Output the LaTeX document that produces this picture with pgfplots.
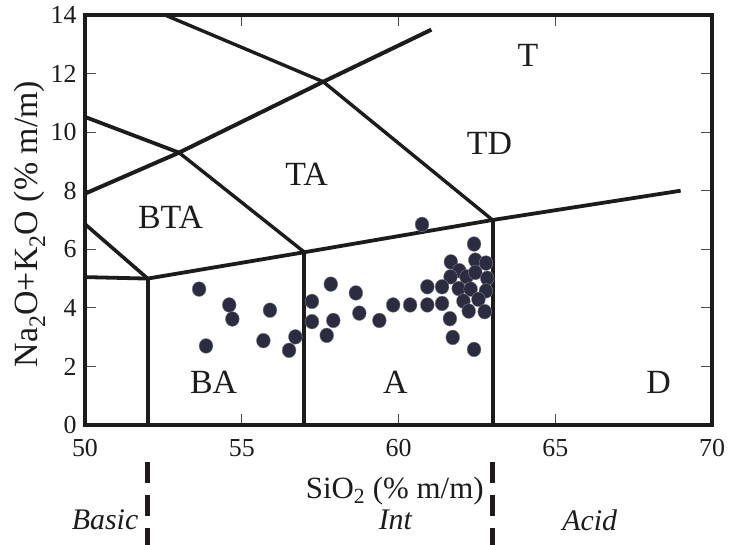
\documentclass[border=0pt]{standalone}
\usepackage{fontspec}
\setmainfont{Liberation Serif}
\usepackage{pgfplots}
\pgfplotsset{compat=1.18}
\definecolor{ln}{RGB}{30,27,28}
\definecolor{dot}{RGB}{44,44,64}
\begin{document}
\begin{tikzpicture}
\path[use as bounding box] (-85bp,-120bp) rectangle (644bp,425bp);
\begin{axis}[
  at={(0,0)}, anchor=south west,
  scale only axis, width=627bp, height=410bp,
  xmin=50, xmax=70, ymin=0, ymax=14,
  xtick={50,55,60,65,70}, ytick={0,2,4,6,8,10,12,14},
  tick align=inside, major tick length=11bp,
  tick style={line width=1.1bp, color=ln!80!white},
  axis line style={line width=4.5bp, color=ln},
  clip=false,
  /pgf/number format/assume math mode=true,
  tick label style={font=\fontsize{26}{30}\selectfont, text=ln},
  xticklabel style={yshift=-11bp},
  yticklabel style={xshift=-5bp},
  xlabel={SiO\textsubscript{2} (\% m/m)},
  ylabel={Na\textsubscript{2}O+K\textsubscript{2}O (\% m/m)},
  xlabel style={at={(axis description cs:0.494,-0.16)}, anchor=center, font=\fontsize{31}{35}\selectfont, text=ln},
  ylabel style={at={(axis description cs:-0.088,0.49)}, anchor=center, font=\fontsize{34}{38}\selectfont, text=ln},
]
% boundary lines
\addplot[ln, line width=3.8bp, no marks] coordinates {(50,5.05) (52,5) (57,5.9) (63,7) (69,8)};
\addplot[ln, line width=3.6bp, no marks] coordinates {(50,6.86) (52,5)};
\addplot[ln, line width=4bp, no marks] coordinates {(52,0) (52,5)};
\addplot[ln, line width=4bp, no marks] coordinates {(57,0) (57,5.9)};
\addplot[ln, line width=4bp, no marks] coordinates {(63,0) (63,7)};
\addplot[ln, line width=3.8bp, no marks] coordinates {(50,10.52) (53,9.3)};
\addplot[ln, line width=3.4bp, no marks] coordinates {(53,9.3) (57,5.9)};
\addplot[ln, line width=4bp, no marks] coordinates {(50,7.9) (53,9.3) (57.6,11.72) (61.05,13.5)};
\addplot[ln, line width=3.4bp, no marks] coordinates {(52.55,14) (57.6,11.72) (63,7)};
% samples
\addplot[only marks, mark=*, mark size=6.9bp, mark options={fill=dot, draw=dot!60!white, line width=0.4bp, yscale=1.07}] coordinates {
(53.64,4.64) (54.60,4.10) (54.70,3.62) (55.90,3.92) (53.86,2.70) (55.69,2.88) (56.71,3.01) (56.51,2.55)
(57.24,4.22) (57.84,4.81) (58.64,4.51) (57.24,3.53) (57.92,3.57) (58.75,3.82) (57.71,3.06) (59.39,3.57)
(59.83,4.10) (60.37,4.10)
(62.41,6.18) (61.67,5.57) (62.45,5.63) (62.79,5.53) (61.94,5.27) (61.66,5.06) (62.17,5.06) (62.45,5.21)
(62.83,5.01) (60.92,4.72) (61.39,4.72) (61.92,4.66) (62.30,4.64) (62.79,4.58) (60.92,4.10) (61.39,4.15)
(62.07,4.23) (62.55,4.29) (62.24,3.89) (62.75,3.87) (61.64,3.63) (61.73,2.99) (62.41,2.58)
(60.75,6.85)
};
% region labels
\begin{scope}[every node/.style={font=\fontsize{34}{38}\selectfont, text=ln, anchor=center}]
\node at (axis cs:64.13,12.63) {T};
\node at (axis cs:62.9,9.6) {TD};
\node at (axis cs:57.07,8.57) {TA};
\node at (axis cs:52.73,7.09) {BTA};
\node at (axis cs:54.1,1.47) {BA};
\node at (axis cs:59.9,1.47) {A};
\node at (axis cs:68.3,1.47) {D};
\end{scope}
% series divisions below the axis
\draw[ln, line width=4.5bp, dash pattern=on 21bp off 12bp] (axis cs:52,-1.26) -- (axis cs:52,-4.1);
\draw[ln, line width=4.5bp, dash pattern=on 21bp off 12bp] (axis cs:63,-1.26) -- (axis cs:63,-4.1);
\begin{scope}[every node/.style={font=\fontsize{30}{34}\selectfont\itshape, text=ln, anchor=center}]
\node at (axis cs:50.64,-3.24) {Basic};
\node at (axis cs:59.9,-3.24) {Int};
\node at (axis cs:66.1,-3.24) {Acid};
\end{scope}
\end{axis}
\end{tikzpicture}
\end{document}
